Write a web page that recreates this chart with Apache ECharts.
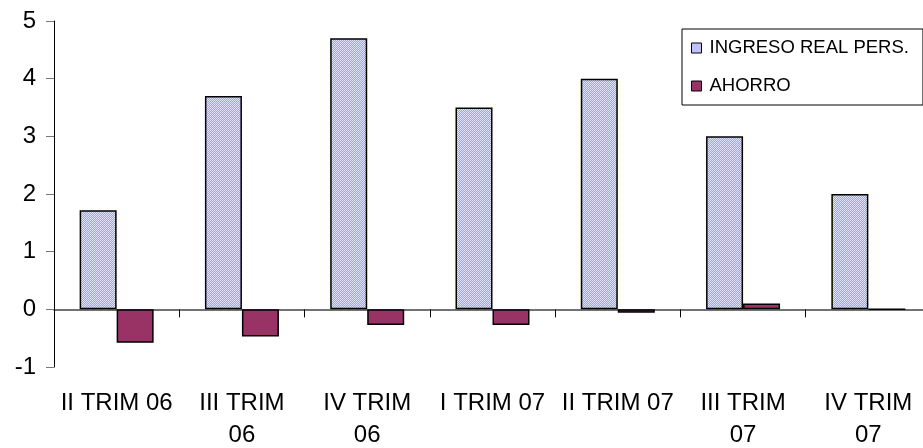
<!DOCTYPE html>
<html>
<head>
<meta charset="utf-8">
<script src="https://cdn.jsdelivr.net/npm/echarts@6/dist/echarts.min.js"></script>
<style>
  html, body { margin: 0; padding: 0; background: #fff; }
  #chart { width: 923px; height: 448px; }
</style>
</head>
<body>
<div id="chart"></div>
<script>
// datos del gráfico
const trimestres = ['II TRIM 06', 'III TRIM\n06', 'IV TRIM\n06', 'I TRIM 07', 'II TRIM 07', 'III TRIM\n07', 'IV TRIM\n07'];
const ingresoReal = [1.72, 3.7, 4.7, 3.5, 4.0, 3.0, 2.0];
const ahorro = [-0.58, -0.47, -0.27, -0.27, -0.06, 0.1, 0];
const yTicks = [-1, 0, 1, 2, 3, 4, 5];

// trama rayada fina para las barras de ingreso
function makeHatch() {
  const c = document.createElement('canvas');
  c.width = 4; c.height = 4;
  const ctx = c.getContext('2d');
  ctx.fillStyle = '#e2e2ff';
  ctx.fillRect(0, 0, 4, 4);
  ctx.fillStyle = '#a0a0ff';
  for (let i = 0; i < 4; i++) {
    ctx.fillRect(i, 3 - i, 1, 1);
    ctx.fillRect((i + 2) % 4, 3 - i, 1, 1);
  }
  return c;
}
const hatch = { image: makeHatch(), repeat: 'repeat' };

const chart = echarts.init(document.getElementById('chart'));

const option = {
  animation: false,
  textStyle: { fontFamily: 'Liberation Sans, Arial, sans-serif' },
  grid: { left: 54, right: -8, top: 21, bottom: 81, outerBoundsMode: 'none', containLabel: false },
  legend: {
    orient: 'vertical',
    left: 682,
    top: 29,
    padding: [9, 14, 9, 9],
    itemGap: 18,
    itemWidth: 10,
    itemHeight: 10,
    icon: 'rect',
    borderColor: '#000',
    borderWidth: 1,
    textStyle: { fontSize: 18.5, color: '#000', lineHeight: 20, padding: [0, 0, 0, 3] },
    data: [
      { name: 'INGRESO REAL PERS.', itemStyle: { color: hatch, borderColor: '#000', borderWidth: 1 } },
      { name: 'AHORRO', itemStyle: { color: '#993366', borderColor: '#000', borderWidth: 1 } }
    ]
  },
  xAxis: [
    {
      type: 'category',
      data: trimestres,
      position: 'bottom',
      axisLine: { show: false, onZero: false },
      axisTick: { show: false },
      axisLabel: {
        interval: 0,
        fontSize: 24,
        color: '#000',
        margin: 20,
        lineHeight: 32
      }
    },
    {
      type: 'category',
      data: trimestres,
      position: 'bottom',
      axisLine: { show: true, onZero: true, lineStyle: { color: '#444', width: 1.5 } },
      axisTick: { show: true, length: 8, lineStyle: { color: '#000', width: 1 } },
      axisLabel: { show: false }
    }
  ],
  yAxis: {
    type: 'value',
    min: yTicks[0],
    max: yTicks[yTicks.length - 1],
    interval: 1,
    splitLine: { show: false },
    axisLine: { show: true, lineStyle: { color: '#000', width: 1 } },
    axisTick: { show: true, length: 8, lineStyle: { color: '#777' } },
    axisLabel: { fontSize: 24, color: '#000', margin: 18 }
  },
  series: [
    {
      name: 'INGRESO REAL PERS.',
      type: 'bar',
      xAxisIndex: 0,
      data: ingresoReal,
      barWidth: 37,
      barGap: '0%',
      itemStyle: { color: hatch, borderColor: '#000', borderWidth: 1.5 }
    },
    {
      name: 'AHORRO',
      type: 'bar',
      xAxisIndex: 0,
      data: ahorro,
      barWidth: 37,
      barGap: '0%',
      itemStyle: { color: '#993366', borderColor: '#000', borderWidth: 1.5 }
    }
  ]
};

chart.setOption(option);
</script>
</body>
</html>
